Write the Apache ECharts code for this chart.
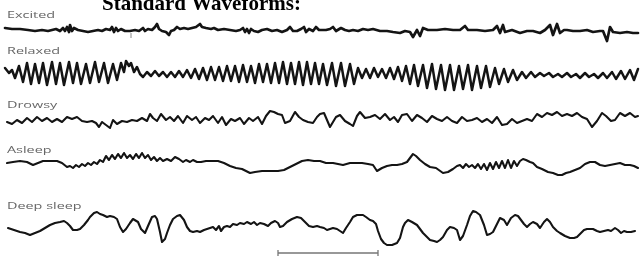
<!DOCTYPE html>
<html>
<head>
<meta charset="utf-8">
<title>Standard Waveforms</title>
<script src="https://cdn.jsdelivr.net/npm/echarts@6/dist/echarts.min.js"></script>
<style>
  html, body { margin: 0; padding: 0; background: #fff; }
  #main { width: 641px; height: 259px; }
</style>
</head>
<body>
<div id="main"></div>
<script>
// trace names, top to bottom
var names = ['Excited', 'Relaxed', 'Drowsy', 'Asleep', 'Deep sleep'];

// [time, amplitude] pairs
var excited = [[5,2],[12,1],[20,1],[28,0],[35,-1],[42,0],[48,-1],[52,0],[56,1],[60,-1],[63,2],[65,-1],[67,3],[69,-2],[70,5],[72,-1],[74,2],[78,0],[83,-1],[88,-2],[93,-1],[98,0],[102,-1],[106,1],[110,0],[112,3],[114,-2],[116,2],[118,-1],[121,1],[125,-1],[130,-1],[135,0],[139,-1],[143,2],[145,-1],[148,1],[152,0],[155,3],[157,6],[159,1],[162,-1],[166,-2],[169,-5],[171,-1],[174,0],[177,3],[180,1],[184,2],[188,1],[192,2],[196,3],[198,5],[200,6],[202,3],[204,5],[206,2],[208,4],[211,1],[214,2],[218,0],[224,1],[230,0],[236,-1],[240,0],[243,2],[245,-2],[247,1],[249,-3],[251,1],[254,-1],[258,-2],[262,0],[267,1],[272,-1],[277,0],[282,-2],[287,0],[290,3],[293,-1],[297,-1],[301,1],[304,3],[306,-2],[309,1],[313,-1],[316,3],[319,0],
  [320,1],[326,0],[330,1],[333,3],[336,-1],[338,-2],[341,2],[345,0],[349,-1],[353,0],[358,-1],[363,1],[368,0],[373,1],[380,-1],[387,-1],[393,-2],[400,-3],[405,-1],[410,-2],[413,-7],[417,0],[420,-6],[423,2],[428,0],[437,0],[445,1],[453,0],[460,0],[465,4],[468,0],[477,0],[485,-1],[493,0],[497,4],[500,-3],[503,5],[505,-2],[507,-1],[512,0],[520,-3],[527,-1],[533,-1],[540,-3],[545,0],[550,5],[553,-5],[557,6],[560,-3],[564,0],[567,0],[573,-1],[580,-1],[587,0],[593,-2],[600,-1],[603,-1],[607,-11],[610,3],[613,-2],[620,-3],[627,-2],[633,-3],[638,-3]];

var relaxed = [[5,6],[9,1],[12,4],[15,-4],[19,8],[23,-8],[27,11],[31,-10],[35,10],[39,-9],[43,11],[47,-11],[52,12],[56,-10],[60,11],[64,-11],[69,12],[73,-9],[77,11],[81,-10],[86,10],[90,-9],[95,12],[99,-8],[104,11],[108,-9],[113,10],[117,-6],[121,11],[124,2],[126,13],[129,8],[131,11],[134,2],[137,7],[140,0],[143,-3],[147,2],[151,-2],[155,3],[159,-2],[163,2],[167,-3],[171,2],[175,-3],[179,3],[183,-3],[187,4],[191,-4],[195,5],[199,-5],[203,6],[207,-6],[211,7],[215,-6],[219,7],[223,-7],[227,8],[231,-7],[235,8],[239,-8],[243,9],[247,-8],[251,8],[255,-9],[259,10],[263,-8],[267,10],[271,-9],[275,11],[279,-9],[283,12],[287,-10],[291,11],[295,-10],[299,12],[303,-11],[307,12],[311,-10],[315,11],[319,-10],
  [323,10],[327,-11],[332,11],[336,-12],[341,11],[345,-12],[350,10],[354,-10],[358,6],[362,-4],[366,5],[370,-4],[374,6],[378,-3],[382,5],[386,-4],[390,6],[394,-5],[398,7],[402,-7],[406,8],[410,-10],[414,9],[418,-12],[423,9],[427,-14],[432,10],[436,-15],[441,9],[445,-16],[450,9],[454,-16],[459,8],[463,-15],[468,9],[472,-16],[477,8],[481,-14],[486,8],[490,-13],[495,6],[499,-10],[504,5],[508,-8],[513,4],[517,-6],[522,2],[526,-4],[531,2],[535,-3],[540,1],[544,-2],[549,1],[553,-3],[558,0],[562,-3],[567,1],[571,-3],[576,0],[580,-4],[585,1],[589,-3],[594,0],[598,-4],[603,1],[607,-4],[612,2],[616,-5],[621,3],[625,-5],[630,4],[634,-6],[638,5]];

var drowsy = [[7,-2],[12,-4],[17,0],[22,-3],[27,2],[32,-2],[37,3],[42,-1],[47,2],[52,-2],[57,1],[62,-2],[67,3],[72,1],[77,3],[82,-1],[87,-2],[92,-1],[96,-3],[99,-7],[102,-2],[106,-5],[110,-8],[113,0],[117,-4],[122,-1],[127,-2],[132,0],[137,-1],[142,2],[147,-1],[150,6],[153,2],[157,-1],[161,6],[166,0],[170,3],[174,-1],[178,4],[183,-3],[187,4],[192,0],[196,3],[200,-3],[205,2],[209,0],[213,4],[218,-3],[222,3],[226,-5],[231,1],[235,-1],[240,2],[244,-4],[249,2],[253,-1],[258,3],[262,-4],[266,4],[270,9],[274,8],[278,6],[282,5],[285,-3],[290,-1],[295,8],[299,3],[303,0],[308,-2],[313,-3],[317,3],
  [320,6],[324,7],[330,-7],[336,3],[340,5],[345,-1],[350,-4],[353,-6],[357,4],[360,8],[365,2],[370,3],[375,5],[380,1],[385,6],[390,0],[394,3],[398,-2],[402,5],[407,6],[412,-1],[417,5],[422,2],[427,-2],[432,4],[437,1],[442,-1],[447,3],[452,-1],[457,-3],[462,3],[467,-1],[472,0],[477,2],[482,-2],[487,1],[492,-3],[497,3],[502,-5],[507,-4],[512,1],[517,-3],[522,-1],[527,1],[532,-1],[537,6],[542,3],[547,7],[552,5],[557,8],[562,4],[567,6],[572,4],[577,7],[582,3],[587,1],[592,-7],[597,-1],[602,7],[606,4],[611,-1],[615,0],[620,7],[625,4],[630,7],[635,3],[638,4]];

var asleep = [[7,1],[13,2],[20,3],[27,2],[33,-1],[38,1],[43,3],[50,3],[57,3],[62,1],[67,-3],[70,-2],[73,-4],[76,-1],[79,-3],[82,0],[85,-2],[88,1],[91,-1],[94,2],[97,0],[100,4],[103,2],[106,8],[109,4],[112,9],[115,5],[118,10],[121,6],[124,11],[127,6],[130,9],[133,5],[136,10],[139,6],[142,11],[145,6],[148,9],[151,4],[154,7],[157,3],[160,6],[163,3],[167,5],[171,3],[175,7],[179,5],[183,2],[186,4],[190,2],[193,4],[197,2],[201,2],[206,3],[212,3],[218,3],[224,1],[230,-2],[236,-4],[242,-5],[246,-7],[250,-9],[255,-8],[262,-7],[270,-7],[278,-7],[284,-6],[290,-3],[296,0],[302,3],[308,4],[314,3],[320,3],
  [326,1],[333,1],[338,0],[343,-1],[350,1],[356,1],[362,1],[368,0],[373,-1],[377,-7],[382,-4],[387,-2],[392,-1],[397,-1],[402,0],[407,2],[410,6],[413,10],[416,8],[420,4],[425,0],[430,-3],[436,-4],[443,-9],[448,-8],[453,-5],[457,-2],[460,-1],[463,-4],[466,0],[469,-3],[472,-1],[475,-4],[478,0],[481,-5],[484,0],[487,-6],[490,1],[493,-5],[496,2],[499,-4],[502,3],[505,-4],[508,4],[511,-4],[514,3],[517,-2],[520,3],[523,5],[526,4],[530,2],[533,1],[537,-3],[542,-5],[548,-8],[553,-9],[558,-11],[562,-11],[566,-9],[570,-8],[575,-6],[580,-4],[585,0],[590,2],[595,2],[600,-1],[605,-2],[610,-1],[615,0],[620,1],[625,-1],[630,-1],[634,-2],[638,-4]];

var deepSleep = [[8,-2],[14,-4],[20,-6],[25,-7],[30,-9],[35,-7],[40,-5],[45,-2],[50,1],[55,3],[60,4],[64,5],[67,3],[70,0],[73,-4],[77,-4],[80,-3],[84,1],[88,6],[90,9],[94,13],[97,14],[100,12],[103,11],[107,9],[110,10],[114,9],[117,7],[120,-1],[123,-6],[126,-3],[130,3],[133,7],[135,8],[138,4],[141,-3],[145,-7],[148,0],[152,9],[155,10],[157,7],[160,-6],[162,-16],[165,-13],[167,-7],[170,1],[173,7],[177,10],[180,11],[184,6],[187,-1],[190,-5],[193,-6],[197,-5],[200,-6],[204,-4],[207,-3],[210,-2],[213,-1],[216,-4],[219,0],[221,-5],[224,-1],[227,0],[230,-1],[233,2],[237,1],[240,3],[244,2],[247,4],[251,2],[254,4],[257,1],[260,3],[264,2],[268,0],[271,3],[275,5],[278,3],[280,-1],[283,0],[287,4],[292,7],[297,9],[301,8],[305,4],[309,0],[313,-1],[317,0],[320,-1],
  [324,-2],[327,-4],[330,-3],[333,-2],[337,-3],[340,-5],[343,-7],[346,-2],[350,4],[353,9],[357,11],[360,11],[363,11],[366,9],[370,6],[373,5],[376,2],[378,-5],[381,-13],[384,-17],[387,-19],[392,-19],[397,-17],[400,-12],[403,-1],[405,3],[408,6],[412,4],[417,1],[420,-3],[423,-7],[427,-11],[430,-14],[434,-15],[437,-16],[440,-14],[443,-11],[447,-4],[450,-1],[454,-2],[457,-4],[460,-14],[463,-10],[467,1],[470,10],[473,15],[476,14],[480,11],[484,1],[487,-9],[490,-8],[493,-6],[497,2],[500,8],[504,6],[507,1],[511,8],[515,11],[518,10],[520,8],[524,2],[527,-1],[530,2],[533,4],[537,2],[540,-2],[544,4],[547,7],[550,4],[553,-1],[557,-5],[560,-7],[565,-10],[570,-12],[574,-12],[577,-11],[581,-7],[584,-4],[587,-3],[590,-3],[593,-3],[597,-5],[600,-6],[604,-5],[608,-4],[611,-5],[615,-2],[618,-4],[621,-7],[624,-5],[627,-6],[631,-6],[635,-5]];

// little marker under the Excited trace and the time scale bar under Deep sleep
var excitedMark = [[131,-3],[131,-8]];
var scaleBar = [[278,-24],[278,-30],[278,-27],[378,-27],[378,-24],[378,-30]];

var traces = [excited, relaxed, drowsy, asleep, deepSleep];

// layout of each strip: [top, height, yMin, yMax, lineWidth]
var strips = [
  [14, 32, -16, 16, 2.7],
  [52, 44, -22, 22, 2.5],
  [104, 32, -16, 16, 2.1],
  [148, 32, -16, 16, 2.1],
  [204, 54, -32, 22, 2.1]
];
var labelY = [15.5, 51.5, 105.5, 150, 206];

var chart = echarts.init(document.getElementById('main'));

var grids = [], xAxes = [], yAxes = [], series = [], graphics = [];
for (var i = 0; i < traces.length; i++) {
  var s = strips[i];
  grids.push({ left: 0, width: 641, top: s[0], height: s[1] });
  xAxes.push({ type: 'value', gridIndex: i, min: 0, max: 641, show: false });
  yAxes.push({ type: 'value', gridIndex: i, min: s[2], max: s[3], show: false });
  series.push({
    name: names[i], type: 'line', xAxisIndex: i, yAxisIndex: i,
    data: traces[i], symbol: 'none', silent: true, animation: false,
    lineStyle: { color: '#141414', width: s[4], join: 'round', cap: 'round' }
  });
  graphics.push({
    type: 'text', x: 7, y: labelY[i], scaleX: 1.6,
    style: { text: names[i], font: '9px "Open Sans"', fill: '#666', verticalAlign: 'middle' }
  });
}

series.push({
  type: 'line', xAxisIndex: 0, yAxisIndex: 0, data: excitedMark, symbol: 'none', silent: true,
  animation: false, lineStyle: { color: '#888', width: 1 }
});
series.push({
  type: 'line', xAxisIndex: 4, yAxisIndex: 4, data: scaleBar, symbol: 'none', silent: true,
  animation: false, lineStyle: { color: '#777', width: 1.3 }
});

graphics.push({
  type: 'text', x: 102, y: 15,
  style: { text: 'Standard Waveforms:', font: 'bold 21px "Liberation Serif"', fill: '#000', verticalAlign: 'bottom' }
});

chart.setOption({
  animation: false,
  grid: grids,
  xAxis: xAxes,
  yAxis: yAxes,
  series: series,
  graphic: graphics
});
</script>
</body>
</html>
